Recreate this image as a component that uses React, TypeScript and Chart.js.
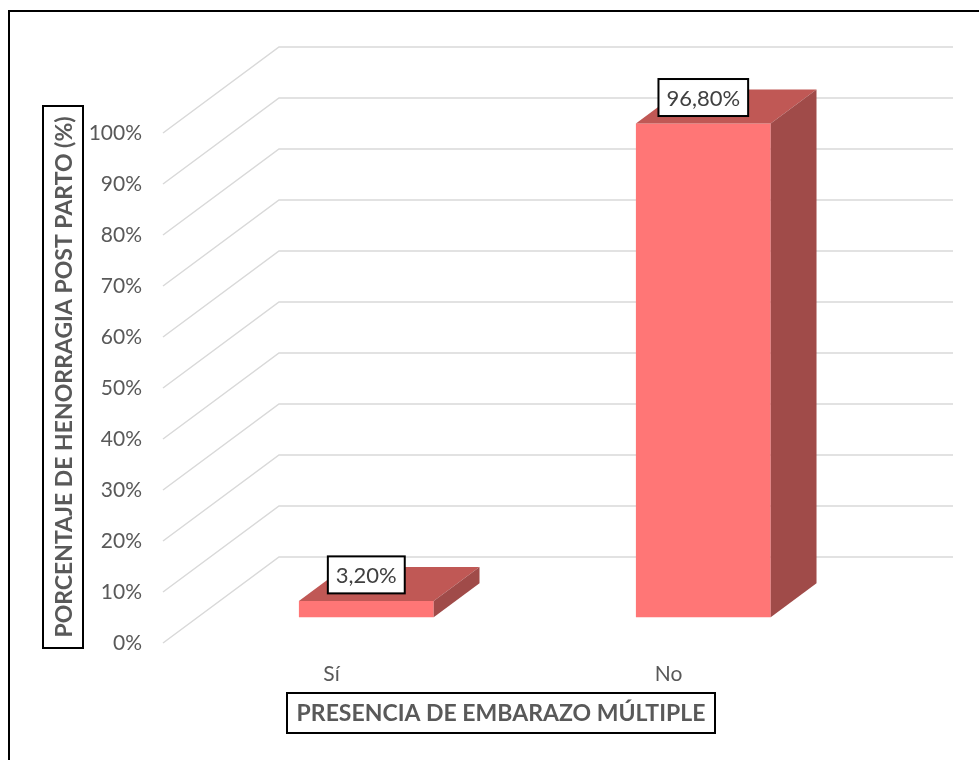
import React, { useEffect, useRef } from 'react';
import { Chart, registerables } from 'chart.js';

Chart.register(...registerables);

const categories: string[] = ['Sí', 'No'];
const values: number[] = [3.2, 96.8];
const valueLabels: string[] = ['3,20%', '96,80%'];
const yTickValues: number[] = [0, 10, 20, 30, 40, 50, 60, 70, 80, 90, 100];
const xTitle = 'PRESENCIA DE EMBARAZO MÚLTIPLE';
const yTitle = 'PORCENTAJE DE HENORRAGIA POST PARTO (%)';

const W = 979;
const H = 760;
const DEPTH_X = 116;
const DEPTH_Y = 86;
const BAR_FRONT = 0.3;
const BAR_DEPTH = 0.395;
const FRONT = '#FF7676';
const TOP = '#C05855';
const SIDE = '#A04B49';
const GRID = '#D9D9D9';
const TEXT = '#595959';
const FONT = 'Lato, "Open Sans", sans-serif';

const fake3d = {
  id: 'fake3d',
  beforeDatasetsDraw(chart: any) {
    const { ctx, chartArea } = chart;
    const y = chart.scales.y;
    ctx.save();
    ctx.strokeStyle = GRID;
    ctx.lineWidth = 1.5;
    yTickValues.forEach((v) => {
      const py = y.getPixelForValue(v);
      ctx.beginPath();
      ctx.moveTo(chartArea.left, py);
      ctx.lineTo(chartArea.left + DEPTH_X, py - DEPTH_Y);
      ctx.lineTo(chartArea.right + DEPTH_X, py - DEPTH_Y);
      ctx.stroke();
    });
    ctx.restore();
    ctx.save();
    ctx.translate(DEPTH_X * BAR_FRONT, -DEPTH_Y * BAR_FRONT);
  },
  afterDatasetsDraw(chart: any) {
    const { ctx } = chart;
    const meta = chart.getDatasetMeta(0);
    const dx = DEPTH_X * BAR_DEPTH;
    const dy = DEPTH_Y * BAR_DEPTH;
    meta.data.forEach((bar: any) => {
      const { x, y, base, width } = bar.getProps(['x', 'y', 'base', 'width'], true);
      const x1 = x - width / 2;
      const x2 = x + width / 2;
      ctx.fillStyle = TOP;
      ctx.beginPath();
      ctx.moveTo(x1, y);
      ctx.lineTo(x2, y);
      ctx.lineTo(x2 + dx, y - dy);
      ctx.lineTo(x1 + dx, y - dy);
      ctx.closePath();
      ctx.fill();
      ctx.fillStyle = SIDE;
      ctx.beginPath();
      ctx.moveTo(x2, y);
      ctx.lineTo(x2 + dx, y - dy);
      ctx.lineTo(x2 + dx, base - dy);
      ctx.lineTo(x2, base);
      ctx.closePath();
      ctx.fill();
    });
    // data labels
    ctx.font = `22px ${FONT}`;
    ctx.textAlign = 'center';
    ctx.textBaseline = 'middle';
    meta.data.forEach((bar: any, i: number) => {
      const { x, y } = bar.getProps(['x', 'y'], true);
      const cy = y - 26;
      const tw = ctx.measureText(valueLabels[i]).width;
      const bw = tw + 16;
      const bh = 37;
      ctx.fillStyle = '#FFFFFF';
      ctx.fillRect(x - bw / 2, cy - bh / 2, bw, bh);
      ctx.strokeStyle = '#000000';
      ctx.lineWidth = 2;
      ctx.strokeRect(x - bw / 2, cy - bh / 2, bw, bh);
      ctx.fillStyle = '#404040';
      ctx.fillText(valueLabels[i], x, cy + 1);
    });
    ctx.restore();
  },
  afterDraw(chart: any) {
    const { ctx } = chart;
    ctx.save();
    // outer border
    ctx.strokeStyle = '#000000';
    ctx.lineWidth = 2;
    ctx.beginPath();
    ctx.moveTo(9, H + 2);
    ctx.lineTo(9, 11);
    ctx.lineTo(W + 2, 11);
    ctx.stroke();

    ctx.font = `bold 23px ${FONT}`;
    ctx.textAlign = 'center';
    ctx.textBaseline = 'middle';
    // x title
    ctx.strokeRect(287, 693, 428, 40);
    ctx.fillStyle = TEXT;
    ctx.fillText(xTitle, 501, 714);
    // y title
    ctx.strokeRect(43, 106, 40, 542);
    ctx.translate(64, 377);
    ctx.rotate(-Math.PI / 2);
    ctx.fillText(yTitle, 0, 1);
    ctx.restore();
  },
};

export default function App() {
  const ref = useRef<HTMLCanvasElement | null>(null);
  useEffect(() => {
    document.body.style.margin = '0';
    let chart: Chart | null = null;
    let cancelled = false;
    const make = () => {
      if (cancelled || !ref.current) return;
      chart = new Chart(ref.current, {
        type: 'bar',
        data: {
          labels: categories,
          datasets: [
            {
              data: values,
              backgroundColor: FRONT,
              borderWidth: 0,
              barPercentage: 0.4,
              categoryPercentage: 1,
              clip: false as any,
            },
          ],
        },
        options: {
          responsive: false,
          animation: false,
          devicePixelRatio: 1,
          layout: { padding: { top: 133, right: 142, left: 0, bottom: 0 } },
          plugins: { legend: { display: false }, tooltip: { enabled: false } },
          scales: {
            x: {
              grid: { display: false, drawTicks: false },
              border: { display: false },
              ticks: { color: TEXT, font: { family: FONT, size: 21 }, padding: 19 },
              afterFit: (s: any) => {
                s.height = H - 643;
              },
            },
            y: {
              min: 0,
              max: 100,
              grid: { display: false, drawTicks: false },
              border: { display: false },
              ticks: {
                stepSize: 10,
                color: TEXT,
                font: { family: FONT, size: 21 },
                padding: 21,
                callback: (v: any) => `${v}%`,
              },
              afterFit: (s: any) => {
                s.width = 163;
              },
            },
          },
        },
        plugins: [fake3d],
      });
    };
    const fonts: any = (document as any).fonts;
    if (fonts && fonts.load) {
      Promise.all([fonts.load(`21px Lato`), fonts.load(`bold 23px Lato`)]).then(make, make);
    } else {
      make();
    }
    return () => {
      cancelled = true;
      if (chart) chart.destroy();
    };
  }, []);
  return <canvas ref={ref} width={W} height={H} style={{ display: 'block' }} />;
}
